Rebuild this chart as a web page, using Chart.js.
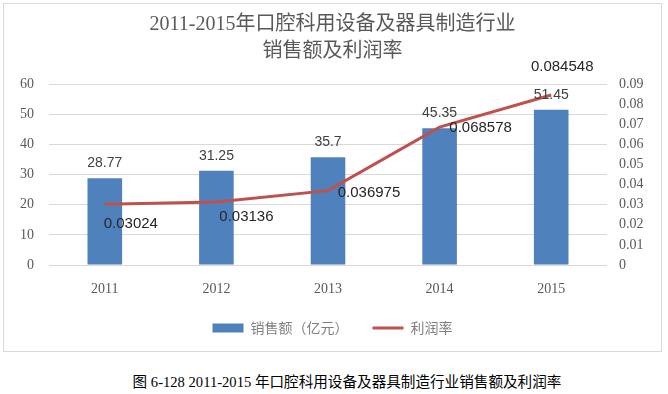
<!DOCTYPE html>
<html>
<head>
  <meta charset="UTF-8" />
  <title>2011-2015年口腔科用设备及器具制造行业销售额及利润率</title>
  <script src="https://cdn.jsdelivr.net/npm/chart.js"></script>
  <style>
    body {
      margin: 0;
      background: #fff;
      width: 668px; height: 394px;
      position: relative;
      overflow: hidden;
    }
    .chart-box {
      position: absolute;
      left: 3px; top: 3px;
      width: 657px; height: 347px;
      border: 1px solid #d9d9d9;
    }
    .caption {
      position: absolute;
      left: 0; top: 373px;
      width: 694px;
      text-align: center;
      font-family: 'Liberation Serif', 'Noto Sans CJK SC', serif;
      font-size: 14.6px;
      line-height: 18px;
      color: #000;
    }
  </style>
</head>
<body>
  <div class="chart-box">
    <canvas id="salesChart"></canvas>
  </div>
  <div class="caption">图 6-128 2011-2015 年口腔科用设备及器具制造行业销售额及利润率</div>
  <script>
    const years = ['2011', '2012', '2013', '2014', '2015'];
    const sales = [28.77, 31.25, 35.7, 45.35, 51.45];          // 销售额（亿元）
    const profitRate = [0.03024, 0.03136, 0.036975, 0.068578, 0.084548];
    const salesTicks = [0, 10, 20, 30, 40, 50, 60];
    const rateTicks = [0, 0.01, 0.02, 0.03, 0.04, 0.05, 0.06, 0.07, 0.08, 0.09];

    const grey = '#595959';
    const tickFont = { family: "'Liberation Serif', serif", size: 14 };

    // value labels: bars above, line labels nudged the way the original has them
    const rateNudge = [[26, 20], [30, 15], [41, 2], [41, 1], [11, -28]];
    const valueLabels = {
      id: 'valueLabels',
      afterDatasetsDraw(chart) {
        const ctx = chart.ctx;
        ctx.save();
        ctx.textAlign = 'center';
        ctx.textBaseline = 'middle';
        ctx.font = "14px 'Liberation Sans'";
        ctx.fillStyle = '#404040';
        chart.getDatasetMeta(0).data.forEach((bar, i) => {
          ctx.fillText(String(sales[i]), bar.x, bar.y - 15);
        });
        ctx.font = "15px 'Liberation Sans'";
        ctx.fillStyle = '#262626';
        chart.getDatasetMeta(1).data.forEach((pt, i) => {
          ctx.fillText(String(profitRate[i]), pt.x + rateNudge[i][0], pt.y + rateNudge[i][1]);
        });
        ctx.restore();
      }
    };

    new Chart(document.getElementById('salesChart'), {
      data: {
        labels: years,
        datasets: [{
          type: 'bar',
          label: '销售额（亿元）',
          data: sales,
          yAxisID: 'y',
          backgroundColor: '#4f81bd',
          borderWidth: 0,
          barPercentage: 0.31,
          categoryPercentage: 1,
          order: 1
        }, {
          type: 'line',
          label: '利润率',
          data: profitRate,
          yAxisID: 'y1',
          borderColor: '#c0504d',
          backgroundColor: '#c0504d',
          borderWidth: 3,
          pointRadius: 0,
          tension: 0,
          order: 0
        }]
      },
      options: {
        responsive: true,
        maintainAspectRatio: false,
        animation: false,
        layout: { padding: { left: 0, right: 0, top: 0, bottom: 6 } },
        plugins: {
          title: {
            display: true,
            text: ['2011-2015年口腔科用设备及器具制造行业', '销售额及利润率'],
            color: grey,
            font: { family: "'Liberation Serif', 'Noto Sans CJK SC', serif", size: 20, weight: 'normal', lineHeight: 1.35 },
            padding: { top: 7.5, bottom: 18.5 }
          },
          legend: {
            position: 'bottom',
            labels: {
              usePointStyle: true,
              pointStyleWidth: 31,
              boxWidth: 31,
              boxHeight: 9,
              padding: 24,
              color: '#7f7f7f',
              font: { family: "'Noto Sans CJK SC', sans-serif", size: 14 },
              sort: (a, b) => a.datasetIndex - b.datasetIndex,
              generateLabels(chart) {
                return Chart.defaults.plugins.legend.labels.generateLabels(chart).map(item => {
                  item.pointStyle = item.datasetIndex === 0 ? 'rect' : 'line';
                  return item;
                });
              }
            }
          },
          tooltip: { enabled: false }
        },
        scales: {
          x: {
            offset: true,
            grid: { display: false, drawTicks: false },
            border: { display: false },
            ticks: { color: grey, font: { family: "'Liberation Serif', serif", size: 14 }, padding: 16 },
            afterFit(scale) { scale.height = 32; }
          },
          y: {
            position: 'left',
            min: salesTicks[0],
            max: salesTicks[salesTicks.length - 1],
            afterBuildTicks(scale) { scale.ticks = salesTicks.map(v => ({ value: v })); },
            ticks: { color: grey, font: tickFont, padding: 15 },
            grid: { color: '#d9d9d9', drawTicks: false },
            border: { display: false },
            afterFit(scale) { scale.width = 45; }
          },
          y1: {
            position: 'right',
            min: rateTicks[0],
            max: rateTicks[rateTicks.length - 1],
            afterBuildTicks(scale) { scale.ticks = rateTicks.map(v => ({ value: v })); },
            ticks: { color: grey, font: tickFont, padding: 12, callback: v => String(v) },
            grid: { display: false, drawTicks: false },
            border: { display: false },
            afterFit(scale) { scale.width = 54; }
          }
        }
      },
      plugins: [valueLabels]
    });
  </script>
</body>
</html>
